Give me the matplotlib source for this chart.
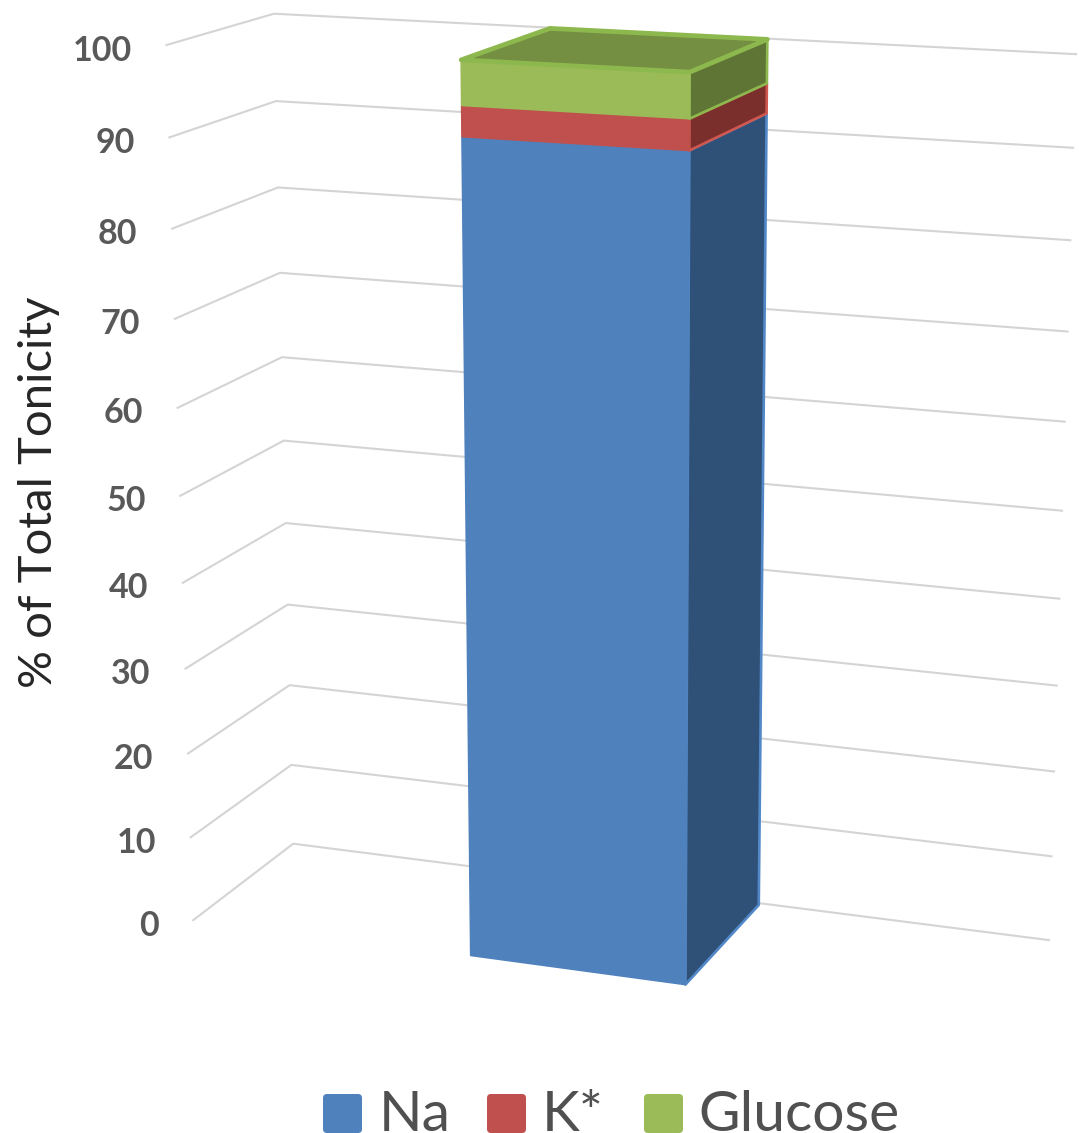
import matplotlib
matplotlib.use('Agg')
import matplotlib.pyplot as plt
import numpy as np
from matplotlib.patches import FancyBboxPatch, Polygon

series_names = ['Na', 'K*', 'Glucose']
series_values = [91.9, 3.3, 4.8]
tick_values = [0, 10, 20, 30, 40, 50, 60, 70, 80, 90, 100]

face_colors = ['#4F81BD', '#C0504D', '#9BBB59']
side_colors = ['#2F5178', '#7A2F2D', '#5F7535']
top_color = '#748F41'
edge_colors = ['#5288C8', '#D0574F', '#8DB84E']

# camera for the 3d box: x along back wall, d towards viewer, v = value / 100
camera = np.array([
    [686.814443, -110.356837, -34.480157, 293.190553],
    [34.639581, 27.124298, -830.754326, 843.713725],
    [-0.065686, -0.053608, -0.055623, 1.0],
])

bar_x = (0.363, 0.634)
bar_d = (0.021, 0.975)


def project(x, d, value):
    h = camera @ np.array([x, d, value / 100, 1.0])
    return h[0] / h[2], h[1] / h[2]


def add_face(ax, corners, color, edge, lw, zorder):
    points = [project(*c) for c in corners]
    ax.add_patch(Polygon(points, closed=True, facecolor=color, edgecolor=edge,
                         linewidth=lw, joinstyle='round', zorder=zorder))


plt.rcParams['font.family'] = ['Lato', 'DejaVu Sans']

fig = plt.figure(figsize=(10.79, 11.33), dpi=100)
ax = fig.add_axes([0, 0, 1, 1])
ax.set_xlim(0, 1079)
ax.set_ylim(1133, 0)
ax.axis('off')

# gridlines run along the left wall and then the back wall
for tick in tick_values:
    pts = [project(0, 1, tick), project(0, 0, tick), project(1, 0, tick)]
    ax.plot([p[0] for p in pts], [p[1] for p in pts], color='#D4D4D4', lw=1.5, zorder=1)
    ax.annotate(str(tick), xy=pts[0], xytext=(-25, -4), textcoords='offset points',
                ha='right', va='center', fontsize=24.5, fontweight='bold', color='#595959')

x0, x1 = bar_x
d_back, d_front = bar_d
bottoms = np.concatenate([[0], np.cumsum(series_values)[:-1]])
tops = np.cumsum(series_values)

for i, (low, high) in enumerate(zip(bottoms, tops)):
    z = 3 + i
    add_face(ax, [(x1, d_front, low), (x1, d_back, low), (x1, d_back, high), (x1, d_front, high)],
             side_colors[i], edge_colors[i], 1.9, z)
    add_face(ax, [(x0, d_front, low), (x1, d_front, low), (x1, d_front, high), (x0, d_front, high)],
             face_colors[i], face_colors[i], 1.2, z + 0.5)

total = tops[-1]
add_face(ax, [(x0, d_front, total), (x1, d_front, total), (x1, d_back, total), (x0, d_back, total)],
         top_color, edge_colors[2], 3.4, 7)

ax.text(39, 492, '% of Total Tonicity', rotation=90, ha='center', va='center',
        fontsize=34, color='#262626')

# legend along the bottom edge
legend_x = [323, 487, 644]
text_x = [379, 542, 698]
for name, color, lx, tx in zip(series_names, face_colors, legend_x, text_x):
    ax.add_patch(FancyBboxPatch((lx, 1094), 39, 39, boxstyle='round,pad=0,rounding_size=4',
                                facecolor=color, edgecolor='none', clip_on=False))
    ax.text(tx, 1131, name, ha='left', va='baseline', fontsize=41, color='#505050')

fig.savefig('out.png', dpi=100)
